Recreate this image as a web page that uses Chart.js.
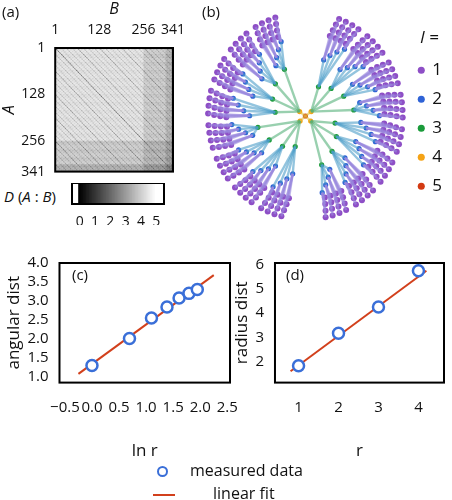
<!DOCTYPE html>
<html><head><meta charset="utf-8">
<script src="https://cdn.jsdelivr.net/npm/chart.js@4/dist/chart.umd.min.js"></script>
<style>
body{margin:0;width:452px;height:500px;position:relative;background:#fff;font-family:"Open Sans",sans-serif;overflow:hidden}
canvas{position:absolute}
.t{position:absolute;font-size:15px;color:#111;white-space:nowrap}
</style></head><body>
<canvas id="ca" width="200" height="182" style="left:0;top:0"></canvas>
<canvas id="cbar" width="120" height="42" style="top:183px;left:68px"></canvas>
<canvas id="cb" width="252" height="230" style="left:200px;top:0"></canvas>
<canvas id="cc" width="252" height="215" style="left:0;top:250px"></canvas>
<canvas id="cd" width="226" height="215" style="left:226px;top:250px"></canvas>
<div class="t" style="left:2px;top:1px">(a)</div>
<div class="t" style="left:202px;top:1px">(b)</div>
<div class="t" style="left:72px;top:264px">(c)</div>
<div class="t" style="left:286px;top:264px">(d)</div>
<div class="t" style="left:4px;top:186px"><i>D</i> (<i>A</i> : <i>B</i>)</div>
<div class="t" style="left:157px;top:459px;font-size:16px"><span style="display:inline-block;width:7px;height:7px;border:2.5px solid #3a6fd8;border-radius:50%;margin-right:22px;vertical-align:middle"></span>measured data</div>
<div class="t" style="left:153px;top:482px;font-size:16px"><span style="display:inline-block;width:22px;height:2px;background:#d2401c;margin-right:38px;vertical-align:middle"></span>linear fit</div>
<script>
// panel (c)
const lnR = [0, 0.693, 1.099, 1.386, 1.609, 1.792, 1.946];
const angDist = [1.30, 2.01, 2.55, 2.84, 3.08, 3.20, 3.30];
const fitCx = [-0.25, 2.25];
const fitCy = [1.08, 3.68];
// panel (d)
const rVals = [1, 2, 3, 4];
const radDist = [1.83, 3.17, 4.25, 5.75];
const fitDx = [0.8, 4.2];
const fitDy = [1.6, 5.75];
// panel (a) ticks, colourbar
const abTicks = [1, 128, 256, 341];
const barTicks = [0, 1, 2, 3, 4, 5];
// panel (b) levels
const levels = ['1', '2', '3', '4', '5'];
const levelColors = ['#8e4fc6', '#2f63d6', '#1a9b3a', '#f5a316', '#d33a12'];

Chart.defaults.color = '#111';
Chart.defaults.font = {family: '"Open Sans", sans-serif', size: 14};
Chart.defaults.animation = false;

const frame = {
    id: 'frame',
    afterDraw(c) {
        const a = c.chartArea, g = c.ctx;
        g.save(); g.strokeStyle = '#000'; g.lineWidth = 2;
        g.strokeRect(a.left, a.top, a.right - a.left, a.bottom - a.top);
        g.restore();
    }
};
const setTicks = list => s => { s.ticks = list.map(v => ({value: v})); };

function fitPlot(id, xs, ys, fx, fy, xo, yo, xTitle, yTitle, pad) {
    new Chart(document.getElementById(id), {
        type: 'scatter',
        data: {datasets: [
            {data: xs.map((x, i) => ({x, y: ys[i]})), borderColor: '#3a6fd8', borderWidth: 2.5,
             backgroundColor: '#fff', pointRadius: 5.5},
            {data: fx.map((x, i) => ({x, y: fy[i]})), showLine: true, borderColor: '#d2401c',
             borderWidth: 2, pointRadius: 0}
        ]},
        options: {
            responsive: false, layout: {padding: pad},
            plugins: {legend: {display: false}, tooltip: {enabled: false}},
            scales: {
                x: Object.assign({grid: {display: false}, border: {display: false},
                    title: {display: true, text: xTitle, font: {size: 17}, padding: {top: 16}}}, xo),
                y: Object.assign({grid: {display: false}, border: {display: false},
                    title: {display: true, text: yTitle, font: {size: 17}, padding: 0}}, yo)
            }
        },
        plugins: [frame]
    });
}
fitPlot('cc', lnR, angDist, fitCx, fitCy,
    {min: -0.6, max: 2.55, afterBuildTicks: setTicks([-0.5, 0, 0.5, 1, 1.5, 2, 2.5]),
     ticks: {font: {size: 15}, maxRotation: 0, autoSkip: false, padding: 8,
        callback: v => v === 0 ? '0.0' : (v < 0 ? '\u22120.5' : v.toFixed(1))}},
    {min: 0.85, max: 4.0, afterBuildTicks: setTicks([1, 1.5, 2, 2.5, 3, 3.5, 4]),
     ticks: {font: {size: 15}, autoSkip: false, callback: v => v.toFixed(1)}},
    'ln r', 'angular dist', {left: 4, right: 22, top: 13});
fitPlot('cd', rVals, radDist, fitDx, fitDy,
    {min: 0.41, max: 4.64, afterBuildTicks: setTicks([1, 2, 3, 4]),
     ticks: {font: {size: 15}, autoSkip: false, padding: 8}},
    {min: 1.13, max: 6.07, afterBuildTicks: setTicks([2, 3, 4, 5, 6]),
     ticks: {font: {size: 15}, autoSkip: false}},
    'r', 'radius dist', {left: 6, right: 7, top: 13});

// 4-ary tree, 341 nodes: node 0 is the root (l = 5), leaves are l = 1
const N = 341, parent = [], depth = [0], rank = [0];
for (let i = 1; i < N; i++) { parent[i] = Math.floor((i - 1) / 4); depth[i] = depth[parent[i]] + 1; }
const firstAt = [0, 1, 5, 21, 85];
for (let i = 1; i < N; i++) {
    // base-4 digit reversal of the position inside its level
    let p = i - firstAt[depth[i]], r = 0;
    for (let k = 0; k < depth[i]; k++) { r = r * 4 + (p % 4); p = Math.floor(p / 4); }
    rank[i] = r;
}
function dist(a, b) {
    let d = 0;
    while (a !== b) { if (depth[a] >= depth[b]) a = parent[a]; else b = parent[b]; d++; }
    return d;
}
const order = [];
for (let i = 0; i < N; i++) order.push(i);
order.sort((p, q) => depth[q] - depth[p] || rank[p] - rank[q]);
const cells = [], cellColors = [];
const step = 2;
for (let a = 0; a < N; a += step) for (let b = 0; b < N; b += step) {
    const d = dist(order[a], order[b]);
    const g = Math.round(30 + 215 * Math.min(d, 8) / 8);
    cells.push({x: b + 1, y: a + 1});
    cellColors.push(`rgb(${g},${g},${g})`);
}
new Chart(document.getElementById('ca'), {
    type: 'scatter',
    data: {datasets: [{data: cells, pointStyle: 'rect', pointRadius: 0.6, borderWidth: 0,
        backgroundColor: cellColors}]},
    options: {
        responsive: false, layout: {padding: {right: 27, top: 0, bottom: 8}},
        plugins: {legend: {display: false}, tooltip: {enabled: false}},
        scales: {
            x: {position: 'top', min: 1, max: 341, grid: {display: false}, border: {display: false},
                afterBuildTicks: setTicks(abTicks),
                ticks: {maxRotation: 0, autoSkip: false, font: {size: 14}, padding: 2},
                title: {display: true, text: 'B', font: {size: 16, style: 'italic'}, padding: 0}},
            y: {reverse: true, min: 1, max: 341, grid: {display: false}, border: {display: false},
                afterBuildTicks: setTicks(abTicks),
                ticks: {font: {size: 14}, autoSkip: false, padding: 2},
                title: {display: true, text: 'A', font: {size: 16, style: 'italic'}, padding: 0}}
        }
    },
    plugins: [frame]
});

// colourbar
const barX = [], barCol = [];
for (let i = 0; i <= 50; i++) {
    barX.push(i / 10);
    const g = Math.round(255 * i / 50);
    barCol.push(`rgb(${g},${g},${g})`);
}
new Chart(document.getElementById('cbar'), {
    type: 'bar',
    data: {datasets: [{data: barX.map(x => ({x, y: 1})), backgroundColor: barCol,
        barThickness: 2.3, borderWidth: 0}]},
    options: {
        responsive: false, layout: {padding: {left: 4, right: 24}},
        plugins: {legend: {display: false}, tooltip: {enabled: false}},
        scales: {
            x: {type: 'linear', min: 0, max: 5, grid: {display: false}, border: {display: false},
                afterBuildTicks: setTicks(barTicks),
                ticks: {font: {size: 14}, padding: 2}},
            y: {display: false, min: 0, max: 1}
        }
    },
    plugins: [frame]
});

// tree layout (radial): leaves fan out in two halves, grouped with gaps
const ang = [], rad = [];
const leafIds = [];
for (let i = 0; i < N; i++) if (depth[i] === 4) leafIds.push(i);
leafIds.forEach((n, k) => {
    const j = k % 128;
    const u = j + 1.6 * Math.floor(j / 4) + 3 * Math.floor(j / 16);
    const uMax = 127 + 1.6 * 31 + 3 * 7;
    const t = k < 128 ? -168 + u * 150 / uMax : 18 + u * 150 / uMax;
    ang[n] = t * Math.PI / 180;
    rad[n] = 0.78 + 0.06 * (k % 4);
});
const baseRad = [0, 0.07, 0.3, 0.55];
for (let i = N - 1; i >= 0; i--) {
    if (depth[i] === 4) continue;
    const ch = [1, 2, 3, 4].map(c => 4 * i + c);
    ang[i] = ch.reduce((s, c) => s + ang[c], 0) / 4;
    rad[i] = baseRad[depth[i]] + (depth[i] >= 2 ? 0.06 * ((i - 1) % 4) : 0);
}
const P = [];
for (let i = 0; i < N; i++) P[i] = {x: rad[i] * Math.sin(ang[i]), y: rad[i] * Math.cos(ang[i])};
const edges = [];
for (let i = 1; i < N; i++) edges.push(P[parent[i]], P[i], {x: null, y: null});
const mixCol = ['#e0c040', '#55b07a', '#4b9cc8', '#9a88dd'];
const byLevel = levels.map(() => []);
for (let i = 0; i < N; i++) byLevel[4 - depth[i]].push(P[i]);
const treeSets = [{label: '', data: edges, showLine: true, spanGaps: false, pointRadius: 0, borderWidth: 2.4,
    segment: {borderColor: c => mixCol[depth[Math.floor(c.p0DataIndex / 3) + 1] - 1] + '99'}}];
byLevel.forEach((pts, k) => treeSets.push({label: levels[k], data: pts, backgroundColor: levelColors[k],
    borderWidth: 0, pointRadius: k === 0 ? 3 : 2.6}));
new Chart(document.getElementById('cb'), {
    type: 'scatter',
    data: {datasets: treeSets},
    options: {
        responsive: false, layout: {padding: {top: 6}},
        plugins: {
            tooltip: {enabled: false},
            legend: {position: 'right',
                title: {display: true, text: 'l =', font: {size: 17, style: 'italic'}},
                labels: {usePointStyle: true, pointStyle: 'circle', boxWidth: 5, boxHeight: 5, padding: 12,
                    font: {size: 17}, filter: it => it.text !== ''}}
        },
        scales: {x: {display: false, min: -1.0, max: 1.0}, y: {display: false, min: -1.02, max: 1.02}}
    }
});
</script>
</body></html>
